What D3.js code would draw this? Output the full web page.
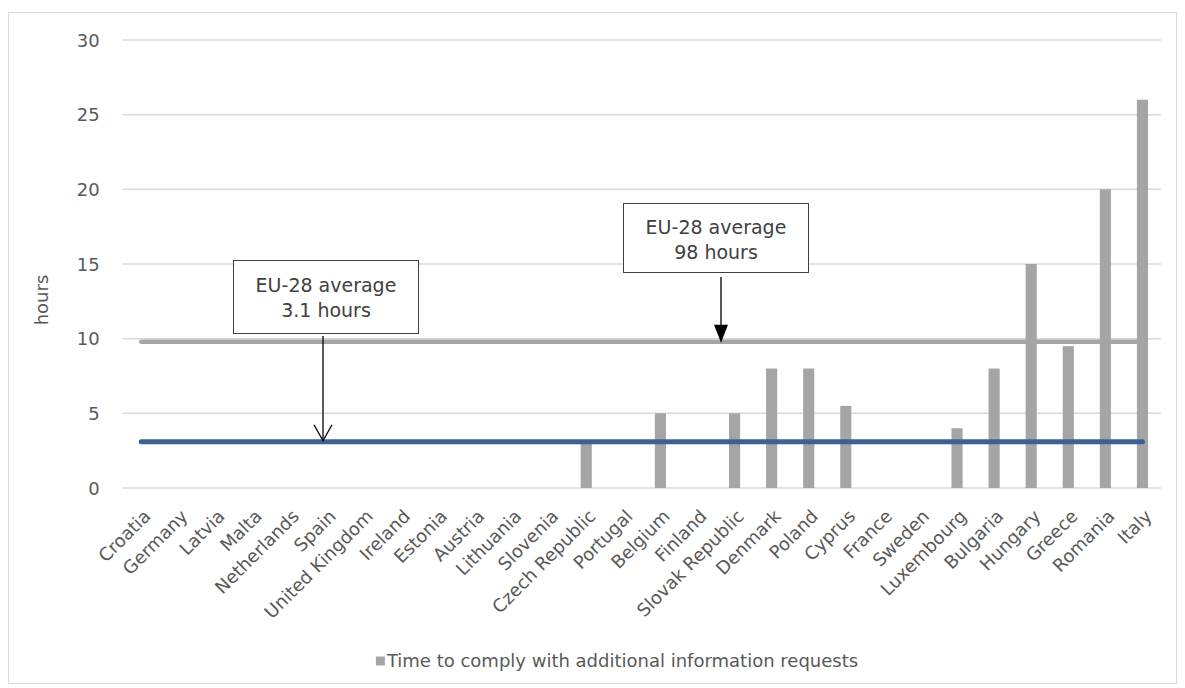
<!DOCTYPE html>
<html>
<head>
<meta charset="utf-8">
<script src="https://cdn.jsdelivr.net/npm/d3@7"></script>
<style>
  html, body { margin: 0; padding: 0; background: #fff; }
  svg text { font-family: "DejaVu Sans", Verdana, sans-serif; }
</style>
</head>
<body>
<svg id="chart" width="1185" height="688"></svg>
<script>
const countries = ["Croatia","Germany","Latvia","Malta","Netherlands","Spain","United Kingdom","Ireland","Estonia","Austria","Lithuania","Slovenia","Czech Republic","Portugal","Belgium","Finland","Slovak Republic","Denmark","Poland","Cyprus","France","Sweden","Luxembourg","Bulgaria","Hungary","Greece","Romania","Italy"];
const hours = [0,0,0,0,0,0,0,0,0,0,0,0,3,0,5,0,5,8,8,5.5,0,0,4,8,15,9.5,20,26];
const avgInfo = 9.8;   // grey line
const avgBase = 3.1;   // blue line
const yTicks = [0,5,10,15,20,25,30];
const seriesName = "Time to comply with additional information requests";
const annot1 = ["EU-28 average","3.1 hours"];
const annot2 = ["EU-28 average","98 hours"];

(function(){
const svg = d3.select("#chart");
const pL = 122.7, pR = 1161, pT = 40, pB = 488;

svg.append("rect").attr("x",8.5).attr("y",12.5).attr("width",1168).attr("height",671)
  .attr("fill","#fff").attr("stroke","#d9d9d9").attr("stroke-width",1);

const x = d3.scaleBand().domain(countries).range([pL,pR]).paddingInner(0.7).paddingOuter(0.35);
const y = d3.scaleLinear().domain([0,30]).range([pB,pT]);
const cx = d => x(d) + x.bandwidth()/2;

// gridlines
svg.append("g").selectAll("line").data(yTicks).join("line")
  .attr("x1",pL).attr("x2",pR).attr("y1",d=>y(d)).attr("y2",d=>y(d))
  .attr("stroke","#d9d9d9").attr("stroke-width",1.5);

// y axis labels
const yAxis = d3.axisLeft(y).tickValues(yTicks).tickSize(0).tickPadding(0);
const gy = svg.append("g").attr("transform",`translate(${pL-23},0)`).call(yAxis);
gy.select(".domain").remove();
gy.selectAll("text").attr("font-size",18).attr("fill","#595959").attr("font-family","DejaVu Sans").attr("dy","0.35em");

// y title
svg.append("text").attr("transform",`translate(48,300) rotate(-90)`)
  .attr("text-anchor","middle").attr("font-size",18).attr("fill","#595959").text("hours");

// grey average line (behind bars)
svg.append("line").attr("x1",cx(countries[0])).attr("x2",cx(countries[countries.length-1]))
  .attr("y1",y(avgInfo)).attr("y2",y(avgInfo))
  .attr("stroke","#a5a5a5").attr("stroke-width",4.5).attr("stroke-linecap","round");

// bars
svg.append("g").selectAll("rect").data(countries).join("rect")
  .attr("x",d=>x(d)).attr("width",x.bandwidth())
  .attr("y",(d,i)=>y(hours[i])).attr("height",(d,i)=>y(0)-y(hours[i]))
  .attr("fill","#a5a5a5");

// blue average line (on top)
svg.append("line").attr("x1",cx(countries[0])).attr("x2",cx(countries[countries.length-1]))
  .attr("y1",y(avgBase)).attr("y2",y(avgBase))
  .attr("stroke","#3b6292").attr("stroke-width",5).attr("stroke-linecap","round");

// x axis labels
const xAxis = d3.axisBottom(x).tickSize(0).tickPadding(0);
const gx = svg.append("g").attr("transform",`translate(0,${pB})`).call(xAxis);
gx.select(".domain").remove();
gx.selectAll("text").attr("font-size",18).attr("fill","#595959").attr("font-family","DejaVu Sans")
  .attr("text-anchor","end").attr("y",0)
  .attr("transform","translate(6,25) rotate(-45)").attr("dy","0.35em");

// annotation 1
const b1 = {x:233.5, y:260.5, w:185, h:73};
svg.append("rect").attr("x",b1.x).attr("y",b1.y).attr("width",b1.w).attr("height",b1.h)
  .attr("fill","#fff").attr("stroke","#404040").attr("stroke-width",1);
annot1.forEach((t,i)=>svg.append("text").attr("x",b1.x+b1.w/2).attr("y",b1.y+25+25*i).attr("dy","0.35em")
  .attr("text-anchor","middle").attr("font-size",19).attr("fill","#404040").text(t));
svg.append("line").attr("x1",323).attr("x2",323).attr("y1",336).attr("y2",y(avgBase)-1)
  .attr("stroke","#000").attr("stroke-width",1.3);
svg.append("path").attr("d",`M314,${y(avgBase)-17} L323,${y(avgBase)-1} L332,${y(avgBase)-17}`)
  .attr("fill","none").attr("stroke","#000").attr("stroke-width",1.3);

// annotation 2
const b2 = {x:623.5, y:203.5, w:185, h:69};
svg.append("rect").attr("x",b2.x).attr("y",b2.y).attr("width",b2.w).attr("height",b2.h)
  .attr("fill","#fff").attr("stroke","#404040").attr("stroke-width",1);
annot2.forEach((t,i)=>svg.append("text").attr("x",b2.x+b2.w/2).attr("y",b2.y+24+25*i).attr("dy","0.35em")
  .attr("text-anchor","middle").attr("font-size",19).attr("fill","#404040").text(t));
svg.append("line").attr("x1",721).attr("x2",721).attr("y1",277).attr("y2",y(avgInfo)-14)
  .attr("stroke","#000").attr("stroke-width",1.3);
svg.append("path").attr("d",`M714,${y(avgInfo)-17} L728,${y(avgInfo)-17} L721,${y(avgInfo)+1} Z`)
  .attr("fill","#000");

// legend
const legend = svg.append("g");
const lt = legend.append("text").attr("x",391).attr("y",661).attr("dy","0.35em")
  .attr("font-size",18).attr("fill","#595959").text(seriesName);
const tw = lt.node().getComputedTextLength();
const lx = 617 - (tw+11)/2;
legend.append("rect").attr("x",lx).attr("y",656.5).attr("width",9).attr("height",9).attr("fill","#a5a5a5");
lt.attr("x",lx+11);
})();
</script>
</body>
</html>
